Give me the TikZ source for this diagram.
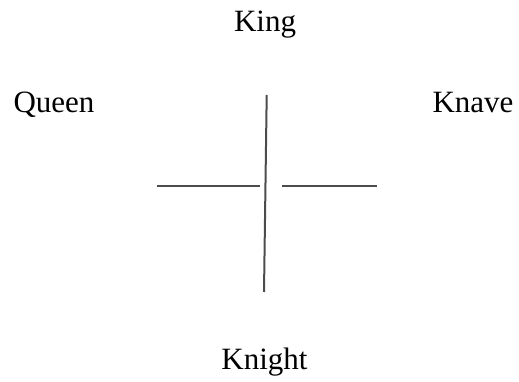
\documentclass[tikz,border=0pt]{standalone}
\usepackage{fontspec}
\setmainfont{Liberation Serif}
\usetikzlibrary{positioning}

\begin{document}
\begin{tikzpicture}[x=1pt, y=1pt,
  lbl/.style={font=\fontsize{31}{37}\selectfont, anchor=base, inner sep=0pt},
  stroke/.style={line width=2pt, black!70}
]
\useasboundingbox (0,0) rectangle (519,381);
\node[lbl] (King)   at (265, 349.3) {King};
\node[lbl] (Queen)  at (54, 269)    {Queen};
\node[lbl] (Knave)  at (473, 269)   {Knave};
\node[lbl] (Knight) at (264.5, 12)  {Knight};
\coordinate (Top)   at (266.7, 286);
\coordinate (Bot)   at (264, 89);
\coordinate (LeftA) at (157, 195);
\coordinate (LeftB) at (260, 195);
\coordinate (RightA) at (282, 195);
\coordinate (RightB) at (377, 195);
\draw[stroke] (Top) -- (Bot);
\draw[stroke] (LeftA) -- (LeftB);
\draw[stroke] (RightA) -- (RightB);
\end{tikzpicture}
\end{document}
